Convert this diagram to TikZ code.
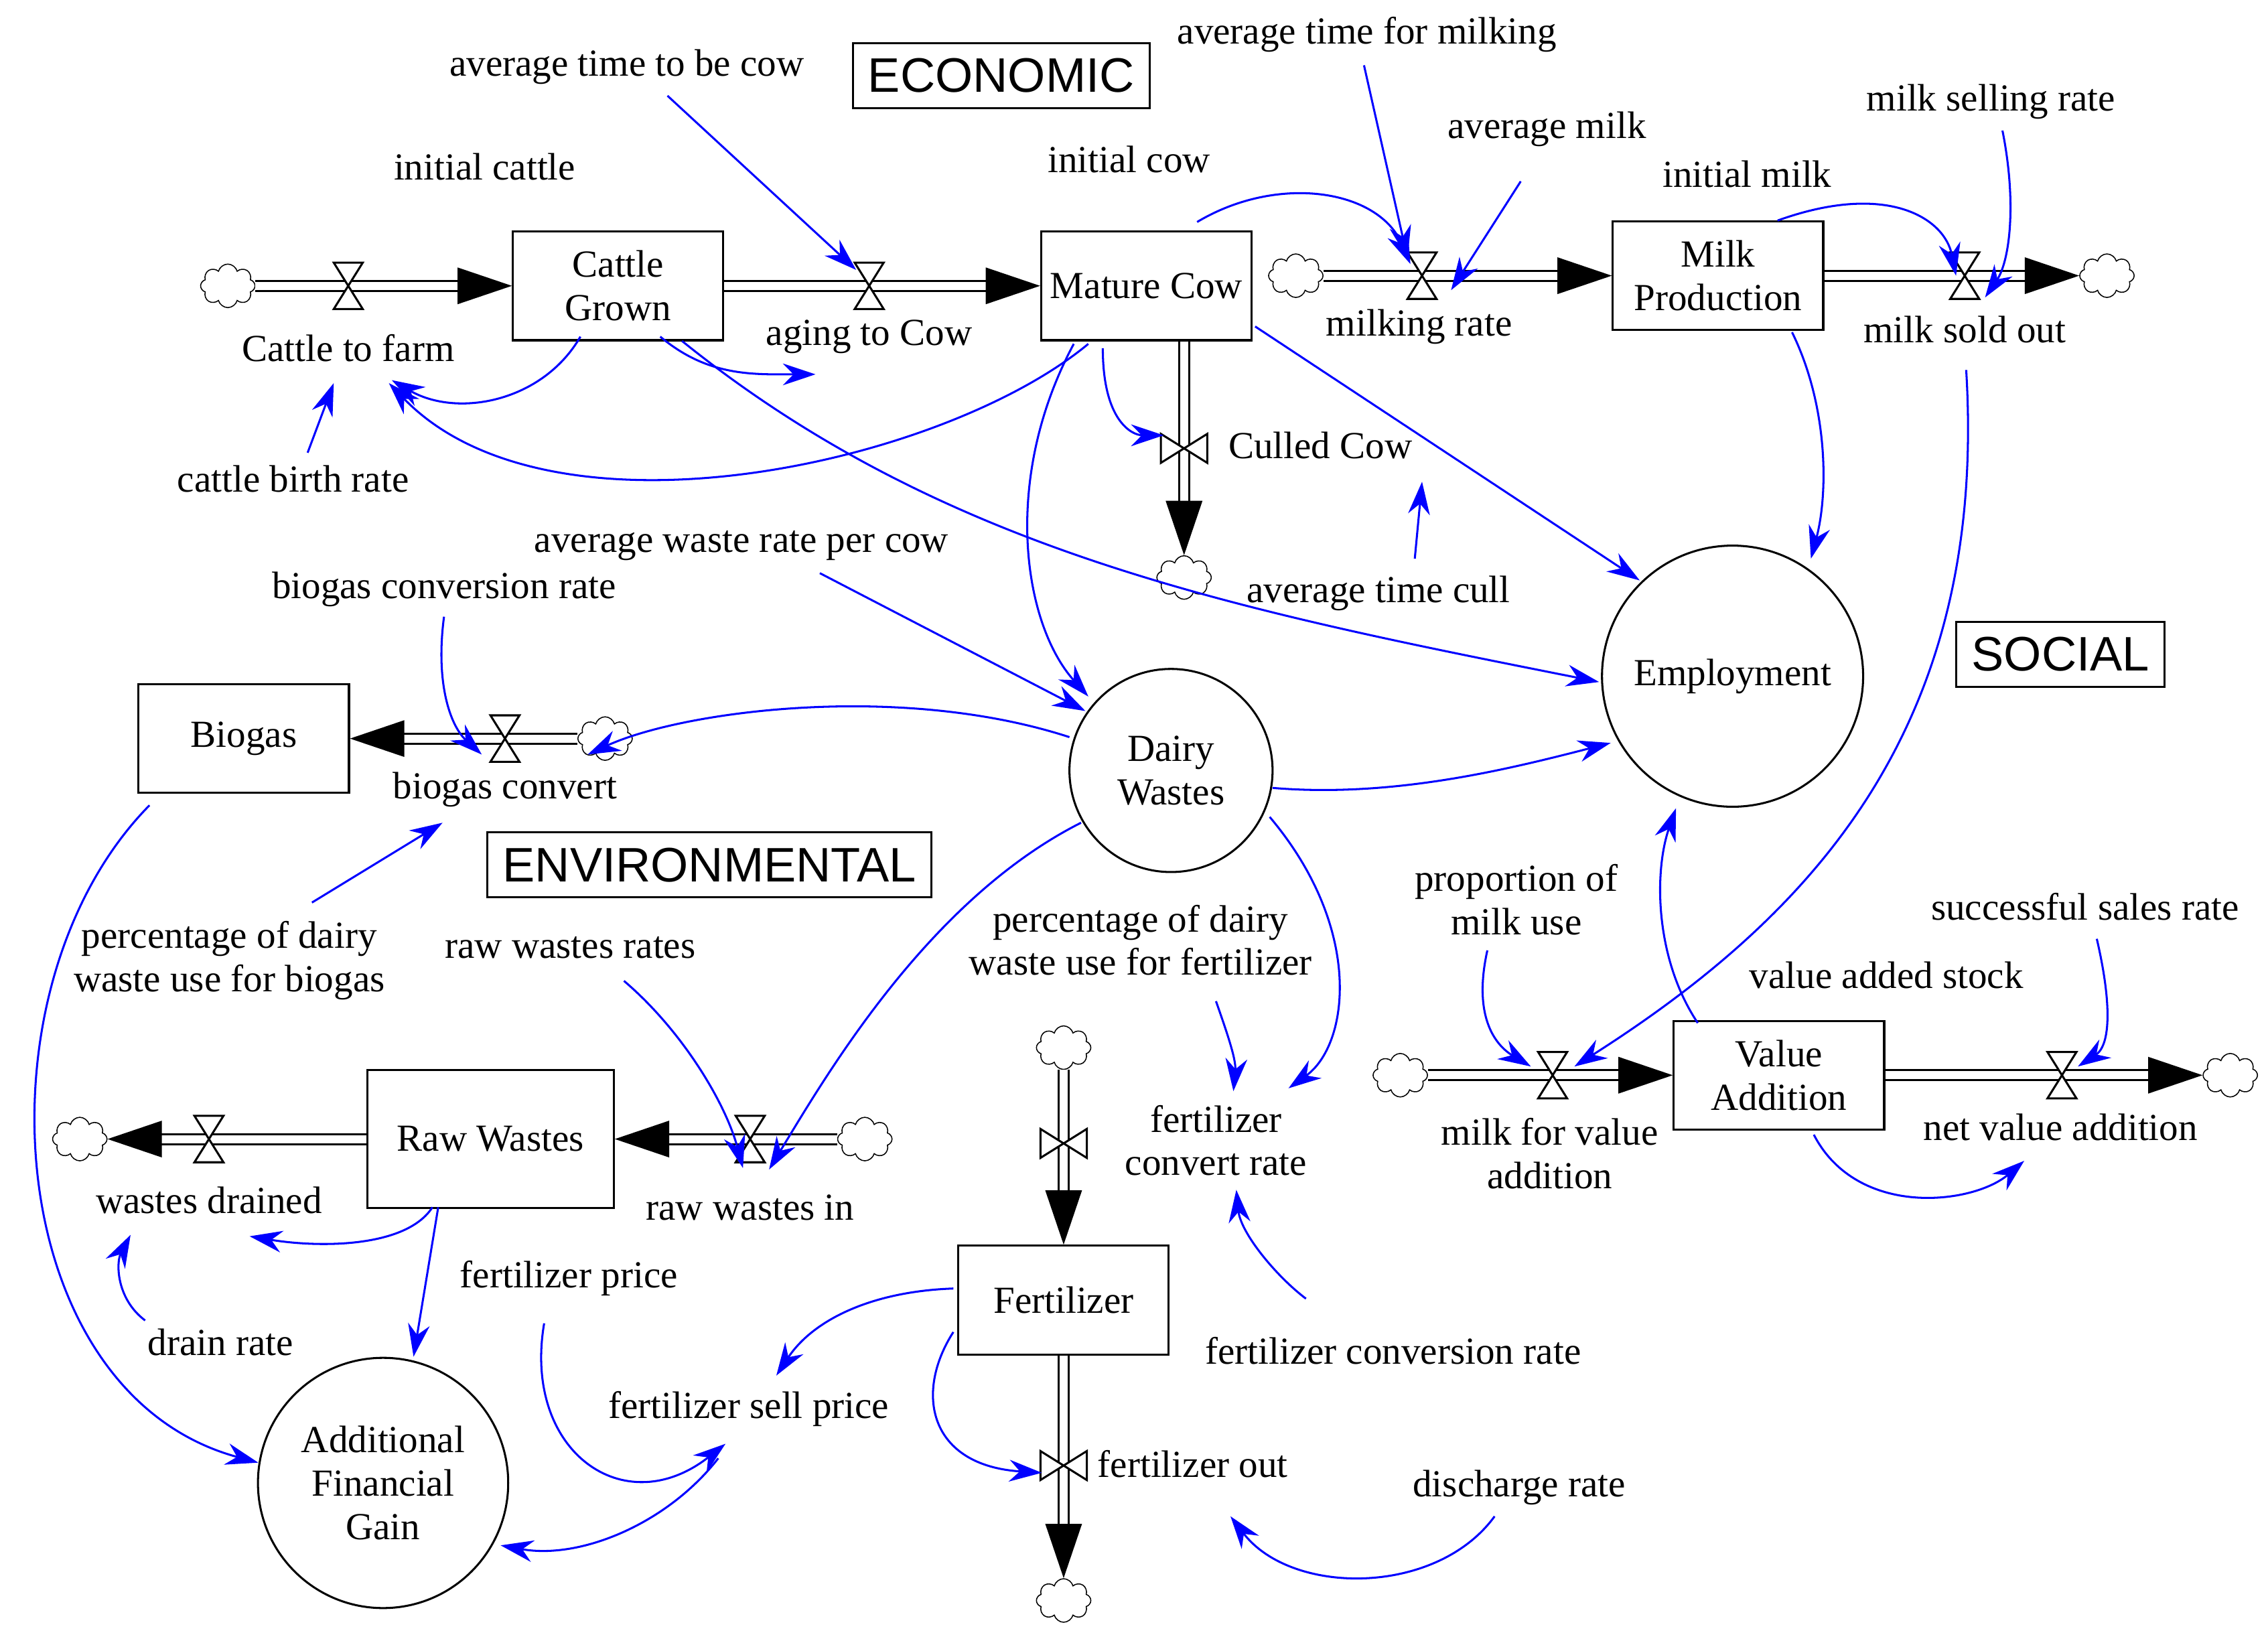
\documentclass[tikz,border=0pt]{standalone}
\usepackage{fontspec}
\setmainfont{Liberation Serif}
\newfontfamily\sansf{Liberation Sans}
\usetikzlibrary{shapes.symbols,arrows.meta}
\begin{document}
\begin{tikzpicture}[x=0.02cm,y=-0.02cm,
  every node/.style={font=\fontsize{15}{17}\selectfont,align=center,inner sep=1pt},
  stock/.style={draw,thick,fill=white,minimum width=2.9cm,minimum height=1.5cm},
  circ/.style={draw,thick,circle,fill=white},
  tag/.style={draw,thick,font=\sansf\fontsize{19}{21}\selectfont,inner sep=6pt},
  cl/.style={cloud,cloud puffs=8,draw,minimum width=0.75cm,minimum height=0.6cm,inner sep=0pt,fill=white},
  flow/.style={double,double distance=1.1mm,thick,-{Triangle[length=0.75cm,width=0.5cm,fill=black]}},
  inf/.style={blue,thick,-{Stealth[length=0.45cm,width=0.3cm]}},
  valve/.pic={\draw[thick,fill=white] (-10,-16)--(10,-16)--(-10,16)--(10,16)--cycle;}
]
\useasboundingbox (0,0) rectangle (1563,1128);
% clouds
\node[cl] (c1) at (157,197) {}; \node[cl] (c2) at (893,190) {}; \node[cl] (c3) at (1452,190) {};
\node[cl] (c4) at (816,398) {}; \node[cl] (c5) at (417,509) {}; \node[cl] (c6) at (55,785) {};
\node[cl] (c7) at (596,785) {}; \node[cl] (c8) at (733,722) {}; \node[cl] (c9) at (733,1103) {};
\node[cl] (c10) at (965,741) {}; \node[cl] (c11) at (1537,741) {};
% stocks
\node[stock] (cg) at (426,197) {Cattle\\Grown};
\node[stock] (mc) at (790,197) {Mature Cow};
\node[stock] (mp) at (1184,190) {Milk\\Production};
\node[stock] (bg) at (168,509) {Biogas};
\node[stock,minimum width=3.4cm,minimum height=1.9cm] (rw) at (338,785) {Raw Wastes};
\node[stock] (fe) at (733,896) {Fertilizer};
\node[stock] (va) at (1226,741) {Value\\Addition};
\node[circ,minimum size=2.8cm] (dw) at (807,531) {Dairy\\Wastes};
\node[circ,minimum size=3.6cm] (em) at (1194,466) {Employment};
\node[circ,minimum size=3.45cm] (af) at (264,1022) {Additional\\Financial\\Gain};
\node[tag] at (690,52) {ECONOMIC};
\node[tag] at (1420,451) {SOCIAL};
\node[tag] at (489,596) {ENVIRONMENTAL};
% flows
\draw[flow] (c1) -- (cg); \pic at (240,197) {valve};
\draw[flow] (cg) -- (mc); \pic at (599,197) {valve};
\draw[flow] (c2) -- (mp); \pic at (980,190) {valve};
\draw[flow] (mp) -- (c3); \pic at (1354,190) {valve};
\draw[flow] (mc.south-|c4) -- (c4); \pic[rotate=90] at (816,309) {valve};
\draw[flow] (c5) -- (bg); \pic at (348,509) {valve};
\draw[flow] (c7) -- (rw); \pic at (517,785) {valve};
\draw[flow] (rw) -- (c6); \pic at (144,785) {valve};
\draw[flow] (c8) -- (fe); \pic[rotate=90] at (733,788) {valve};
\draw[flow] (fe) -- (c9); \pic[rotate=90] at (733,1010) {valve};
\draw[flow] (c10) -- (va); \pic at (1070,741) {valve};
\draw[flow] (va) -- (c11); \pic at (1421,741) {valve};
% flow labels
\node (ctf) at (240,240) {Cattle to farm};
\node (atc) at (599,232) {aging to Cow};
\node (mr) at (978,225) {milking rate};
\node (mso) at (1354,227) {milk sold out};
\node (cc) at (910,307) {Culled Cow};
\node (bc) at (348,544) {biogas convert};
\node (rwi) at (517,832) {raw wastes in};
\node (wd) at (144,827) {wastes drained};
\node (fo) at (822,1009) {fertilizer out};
\node (mfv) at (1068,795) {milk for value\\addition};
\node (nva) at (1420,777) {net value addition};
% aux
\node at (334,115) {initial cattle};
\node (atbc) at (432,46) {average time to be cow};
\node at (778,110) {initial cow};
\node (atm) at (942,24) {average time for milking};
\node (am) at (1066,89) {average milk};
\node at (1204,120) {initial milk};
\node (msr) at (1372,70) {milk selling rate};
\node (cbr) at (202,330) {cattle birth rate};
\node (atcu) at (950,409) {average time cull};
\node (awr) at (511,376) {average waste rate per cow};
\node (bcr) at (306,406) {biogas conversion rate};
\node (pdb) at (158,662) {percentage of dairy\\waste use for biogas};
\node (rwr) at (393,653) {raw wastes rates};
\node (pdf) at (786,648) {percentage of dairy\\waste use for fertilizer};
\node (fcr) at (838,786) {fertilizer\\convert rate};
\node (pmu) at (1045,620) {proportion of\\milk use};
\node (ssr) at (1437,625) {successful sales rate};
\node at (1300,672) {value added stock};
\node (fp) at (392,881) {fertilizer price};
\node (dr) at (152,925) {drain rate};
\node (fsp) at (516,971) {fertilizer sell price};
\node (fconv) at (960,931) {fertilizer conversion rate};
\node (dis) at (1047,1025) {discharge rate};
% influences
\draw[inf] (460,66) -- (590,186);
\draw[inf] (400,232) to[out=-120,in=-30] (270,262);
\draw[inf] (455,232) to[out=-40,in=180] (562,258);
\draw[inf] (212,312) -- (230,264);
\draw[inf] (750,237) .. controls (650,320) and (380,380) .. (268,264);
\draw[inf] (470,235) .. controls (650,380) and (850,420) .. (1102,470);
\draw[inf] (825,153) .. controls (880,120) and (950,130) .. (972,182);
\draw[inf] (940,45) -- (970,178);
\draw[inf] (1048,125) -- (1000,200);
\draw[inf] (760,240) .. controls (760,290) and (780,300) .. (802,300);
\draw[inf] (975,385) -- (980,332);
\draw[inf] (740,237) .. controls (690,330) and (705,430) .. (750,480);
\draw[inf] (865,225) -- (1130,400);
\draw[inf] (1235,229) .. controls (1260,280) and (1260,340) .. (1248,385);
\draw[inf] (1225,152) .. controls (1300,125) and (1340,150) .. (1348,190);
\draw[inf] (1380,90) .. controls (1390,140) and (1385,180) .. (1368,205);
\draw[inf] (1355,255) .. controls (1370,500) and (1250,630) .. (1085,735);
\draw[inf] (565,395) -- (748,490);
\draw[inf] (306,425) .. controls (300,470) and (310,500) .. (332,520);
\draw[inf] (737,508) .. controls (620,470) and (470,490) .. (405,520);
\draw[inf] (877,543) .. controls (960,550) and (1040,530) .. (1110,512);
\draw[inf] (745,567) .. controls (640,620) and (570,740) .. (530,806);
\draw[inf] (875,563) .. controls (940,640) and (930,720) .. (888,750);
\draw[inf] (838,690) .. controls (845,710) and (852,730) .. (850,752);
\draw[inf] (215,622) -- (305,567);
\draw[inf] (430,676) .. controls (470,710) and (500,760) .. (512,805);
\draw[inf] (103,555) .. controls (-20,680) and (0,960) .. (178,1008);
\draw[inf] (298,832) .. controls (280,860) and (220,860) .. (172,852);
\draw[inf] (100,910) .. controls (80,895) and (80,870) .. (90,851);
\draw[inf] (302,832) -- (285,935);
\draw[inf] (657,888) .. controls (600,890) and (560,910) .. (535,948);
\draw[inf] (375,912) .. controls (360,1000) and (430,1050) .. (500,995);
\draw[inf] (495,1005) .. controls (460,1050) and (400,1075) .. (345,1065);
\draw[inf] (657,918) .. controls (630,960) and (640,1010) .. (718,1015);
\draw[inf] (900,895) .. controls (880,880) and (855,850) .. (852,820);
\draw[inf] (1030,1045) .. controls (990,1100) and (890,1100) .. (848,1045);
\draw[inf] (1025,655) .. controls (1015,700) and (1030,720) .. (1055,735);
\draw[inf] (1445,647) .. controls (1455,690) and (1455,720) .. (1432,735);
\draw[inf] (1170,705) .. controls (1140,660) and (1140,600) .. (1155,557);
\draw[inf] (1250,782) .. controls (1280,840) and (1360,830) .. (1395,800);
\end{tikzpicture}
\end{document}
